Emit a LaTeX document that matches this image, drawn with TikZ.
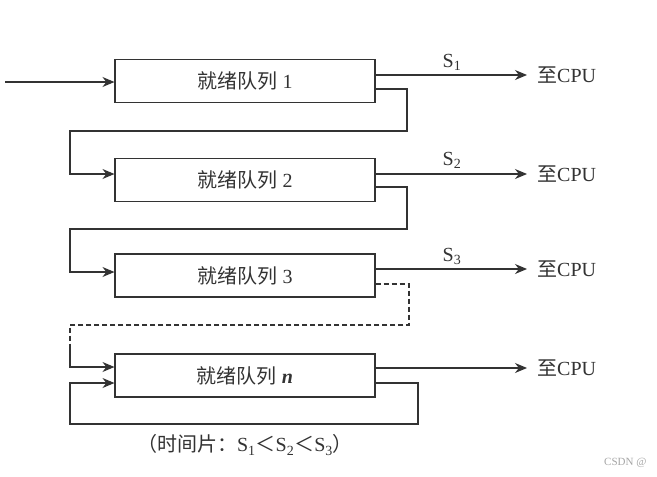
\documentclass[tikz,border=0pt]{standalone}
\usepackage{fontspec}
\setmainfont{Liberation Serif}
\newfontfamily\cjk{Noto Sans CJK SC}
\usetikzlibrary{arrows.meta}
\definecolor{ink}{HTML}{333333}
\begin{document}
\begin{tikzpicture}[x=1pt,y=-1pt,
  qbox/.style={draw=ink,line width=1.1pt,minimum width=260pt,minimum height=43pt,inner sep=0pt,text=ink,font=\fontsize{20}{22}\selectfont},
  lbl/.style={text=ink,font=\fontsize{20}{22}\selectfont,inner sep=0pt},
  ln/.style={draw=ink,line width=1.1pt},
  arr/.style={ln,-{Stealth[length=12pt,width=10pt]}}]
\useasboundingbox (0,0) rectangle (657,477);
\fill[white] (0,0) rectangle (657,477);
\node[qbox] (q1) at (245,81) {{\cjk 就绪队列} 1};
\node[qbox] (q2) at (245,180) {{\cjk 就绪队列} 2};
\node[qbox] (q3) at (245,275.5) {{\cjk 就绪队列} 3};
\node[qbox] (qn) at (245,375.5) {{\cjk 就绪队列} \textit{\textbf{n}}};
\coordinate (in) at (5,82);
\draw[arr] (in) -- (q1.west |- in);
\foreach \q/\y/\s in {q1/75/1,q2/174/2,q3/269/3,qn/368/0}{
  \node[lbl,anchor=west] (c\q) at (537,\y) {{\cjk 至}CPU};
  \draw[arr] (\q.east |- c\q) -- ([xshift=-10pt]c\q.west);
}
\node[lbl] (s1) at (452,62) {S\textsubscript{1}};
\node[lbl] (s2) at (452,160) {S\textsubscript{2}};
\node[lbl] (s3) at (452,256) {S\textsubscript{3}};
\draw[arr] ([yshift=-8pt]q1.east) -| (407,131) -| (70,174) -- (q2.west |- 0,174);
\draw[arr] ([yshift=-7pt]q2.east) -| (407,229) -| (70,272) -- (q3.west |- 0,272);
\draw[ln,dashed,dash pattern=on 5pt off 3pt] ([yshift=-8.5pt]q3.east) -| (409,325) -| (70,345);
\draw[arr] (70,345) |- (qn.west |- 0,367);
\draw[arr] ([yshift=-7.5pt]qn.east) -| (418,424) -| (70,383) -- (qn.west |- 0,383);
\node[lbl] (cap) at (245,445) {{\cjk （时间片：}S\textsubscript{1}{\cjk ＜}S\textsubscript{2}{\cjk ＜}S\textsubscript{3}{\cjk ）}};
\node[text=gray!70,font=\fontsize{11}{12}\selectfont,anchor=east] (wm) at (650,463) {CSDN @};
\end{tikzpicture}
\end{document}
